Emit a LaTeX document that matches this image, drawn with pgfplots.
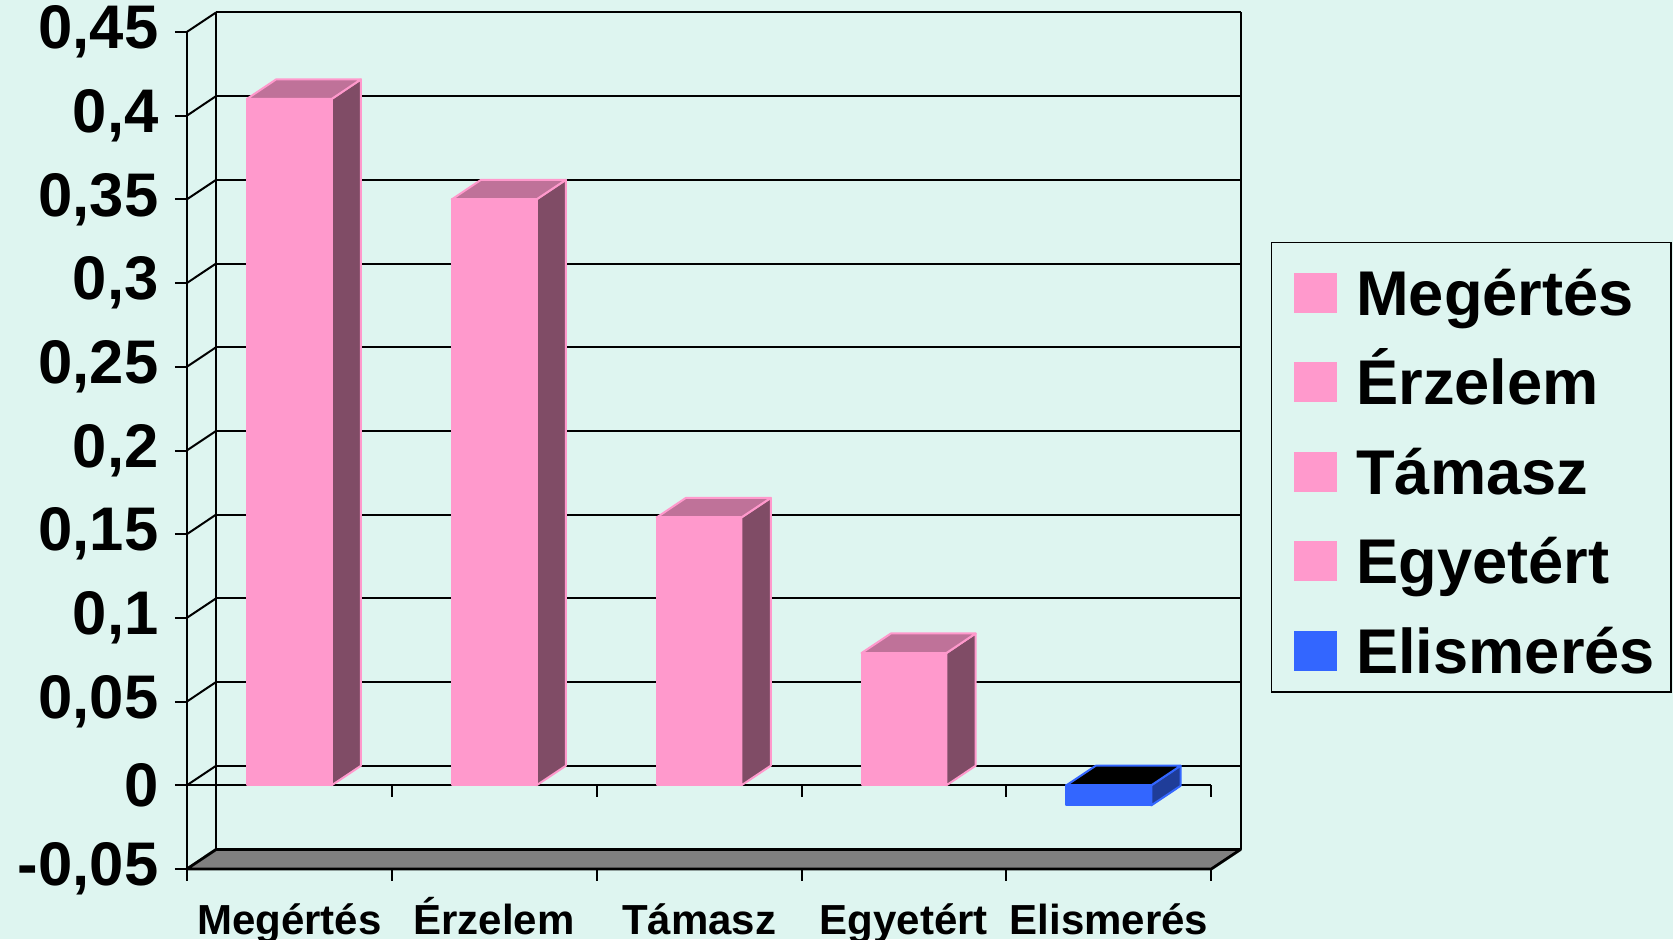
\documentclass[border=0pt]{standalone}
\usepackage{fontspec}
\setmainfont{Liberation Sans}
\usepackage{pgfplots}
\pgfplotsset{compat=1.18}
\definecolor{bg}{RGB}{222,245,240}
\definecolor{pinkF}{RGB}{255,153,204}
\definecolor{pinkT}{RGB}{191,114,153}
\definecolor{pinkS}{RGB}{128,76,102}
\definecolor{blueF}{RGB}{51,102,255}
\definecolor{blueS}{RGB}{31,61,153}
\definecolor{floorc}{RGB}{128,128,128}
\pgfplotsset{gl/.style={black, line width=1pt, forget plot},
  pface/.style={draw=pinkF, line width=1pt, line join=round, forget plot},
  bface/.style={draw=blueF, line width=1pt, line join=round, forget plot}}
\begin{document}
\begin{tikzpicture}
\useasboundingbox (0,0) rectangle (836.5pt,469.5pt);
\fill[bg] (0,0) rectangle (836.5pt,469.5pt);
\begin{axis}[
  at={(93.4pt,35pt)}, anchor=south west,
  x=102.45pt, y=837pt,
  xmin=0, xmax=5.143, ymin=-0.05, ymax=0.4617,
  axis x line*=bottom, axis y line*=left,
  axis line style={draw=none},
  clip=false, unbounded coords=jump,
  ytick={-0.05,0,0.05,0.1,0.15,0.2,0.25,0.3,0.35,0.4,0.45},
  yticklabels={{-0,05},{0},{0,05},{0,1},{0,15},{0,2},{0,25},{0,3},{0,35},{0,4},{0,45}},
  xtick={0.5,1.5,2.5,3.5,4.5},
  xticklabels={Megértés,Érzelem,Támasz,Egyetért,Elismerés},
  xtick style={draw=none},
  ytick style={black, line width=1pt},
  major tick length=6pt,
  tick align=outside,
  yticklabel style={font=\fontsize{30.8}{36}\selectfont\bfseries, inner sep=0pt, xshift=-8pt, anchor=east},
  xticklabel style={font=\fontsize{21}{26}\selectfont\bfseries, inner sep=0pt, text height=15pt, text depth=0pt, anchor=north, yshift=-11.5pt},
  legend style={at={(1.0286,0.7323)}, anchor=north west, draw=black, line width=0.75pt, fill=bg,
    inner xsep=8pt, inner ysep=4pt, row sep=7.1pt, column sep=9.85pt,
    font=\fontsize{31.6}{37}\selectfont\bfseries,
    nodes={inner sep=0pt, text height=32.35pt, text depth=5.3pt, anchor=base west}},
  legend cell align=left,
  legend image code/.code={\path (0pt,0pt); \fill[#1, draw=none] (2.65pt,1.1pt) rectangle (24.15pt,21.1pt);},
]
% back wall gridlines
\addplot[gl] coordinates {(0.143,0.0117)(5.143,0.0117) (0,nan)
 (0.143,0.0617)(5.143,0.0617) (0,nan) (0.143,0.1117)(5.143,0.1117) (0,nan)
 (0.143,0.1617)(5.143,0.1617) (0,nan) (0.143,0.2117)(5.143,0.2117) (0,nan)
 (0.143,0.2617)(5.143,0.2617) (0,nan) (0.143,0.3117)(5.143,0.3117) (0,nan)
 (0.143,0.3617)(5.143,0.3617) (0,nan) (0.143,0.4117)(5.143,0.4117) (0,nan)
 (0.143,0.4617)(5.143,0.4617)};
% side wall diagonals
\addplot[gl] coordinates {(0,0)(0.143,0.0117) (0,nan)
 (0,0.05)(0.143,0.0617) (0,nan) (0,0.1)(0.143,0.1117) (0,nan)
 (0,0.15)(0.143,0.1617) (0,nan) (0,0.2)(0.143,0.2117) (0,nan)
 (0,0.25)(0.143,0.2617) (0,nan) (0,0.3)(0.143,0.3117) (0,nan)
 (0,0.35)(0.143,0.3617) (0,nan) (0,0.4)(0.143,0.4117) (0,nan)
 (0,0.45)(0.143,0.4617)};
% back verticals and front axis
\addplot[gl] coordinates {(0.143,-0.0383)(0.143,0.4617) (0,nan) (5.143,-0.0383)(5.143,0.4617) (0,nan) (0,-0.05)(0,0.45)};
% floor
\addplot[fill=floorc, draw=black, line width=1.4pt, line join=round, forget plot] coordinates {(0,-0.05)(5,-0.05)(5.143,-0.0383)(0.143,-0.0383)} -- cycle;
% category axis at zero, ticks
\addplot[gl] coordinates {(0,0)(5,0)};
\addplot[gl] coordinates {(1,0)(1,-0.00717) (0,nan) (2,0)(2,-0.00717) (0,nan) (3,0)(3,-0.00717) (0,nan) (4,0)(4,-0.00717) (0,nan) (5,0)(5,-0.00717)};
\addplot[gl] coordinates {(0,-0.05)(0,-0.05717) (0,nan) (1,-0.05)(1,-0.05717) (0,nan) (2,-0.05)(2,-0.05717) (0,nan) (3,-0.05)(3,-0.05717) (0,nan) (4,-0.05)(4,-0.05717) (0,nan) (5,-0.05)(5,-0.05717)};
% bar 1 : 0.41
\addplot[pface, fill=pinkS] coordinates {(0.707,0)(0.85,0.0117)(0.85,0.4217)(0.707,0.41)} -- cycle;
\addplot[pface, fill=pinkT] coordinates {(0.293,0.41)(0.707,0.41)(0.85,0.4217)(0.436,0.4217)} -- cycle;
\addplot[pface, fill=pinkF] coordinates {(0.293,0)(0.707,0)(0.707,0.41)(0.293,0.41)} -- cycle;
% bar 2 : 0.35
\addplot[pface, fill=pinkS] coordinates {(1.707,0)(1.85,0.0117)(1.85,0.3617)(1.707,0.35)} -- cycle;
\addplot[pface, fill=pinkT] coordinates {(1.293,0.35)(1.707,0.35)(1.85,0.3617)(1.436,0.3617)} -- cycle;
\addplot[pface, fill=pinkF] coordinates {(1.293,0)(1.707,0)(1.707,0.35)(1.293,0.35)} -- cycle;
% bar 3 : 0.16
\addplot[pface, fill=pinkS] coordinates {(2.707,0)(2.85,0.0117)(2.85,0.1717)(2.707,0.16)} -- cycle;
\addplot[pface, fill=pinkT] coordinates {(2.293,0.16)(2.707,0.16)(2.85,0.1717)(2.436,0.1717)} -- cycle;
\addplot[pface, fill=pinkF] coordinates {(2.293,0)(2.707,0)(2.707,0.16)(2.293,0.16)} -- cycle;
% bar 4 : 0.079
\addplot[pface, fill=pinkS] coordinates {(3.707,0)(3.85,0.0117)(3.85,0.0907)(3.707,0.079)} -- cycle;
\addplot[pface, fill=pinkT] coordinates {(3.293,0.079)(3.707,0.079)(3.85,0.0907)(3.436,0.0907)} -- cycle;
\addplot[pface, fill=pinkF] coordinates {(3.293,0)(3.707,0)(3.707,0.079)(3.293,0.079)} -- cycle;
% bar 5 : -0.012
\addplot[bface, fill=blueS] coordinates {(4.707,-0.012)(4.85,-0.0003)(4.85,0.0117)(4.707,0)} -- cycle;
\addplot[bface, fill=black] coordinates {(4.293,0)(4.707,0)(4.85,0.0117)(4.436,0.0117)} -- cycle;
\addplot[bface, fill=blueF] coordinates {(4.293,-0.012)(4.707,-0.012)(4.707,0)(4.293,0)} -- cycle;
% legend
\addlegendimage{fill=pinkF}
\addlegendentry{Megértés}
\addlegendimage{fill=pinkF}
\addlegendentry{Érzelem}
\addlegendimage{fill=pinkF}
\addlegendentry{Támasz}
\addlegendimage{fill=pinkF}
\addlegendentry{Egyetért}
\addlegendimage{fill=blueF}
\addlegendentry{Elismerés}
\end{axis}
\end{tikzpicture}
\end{document}
